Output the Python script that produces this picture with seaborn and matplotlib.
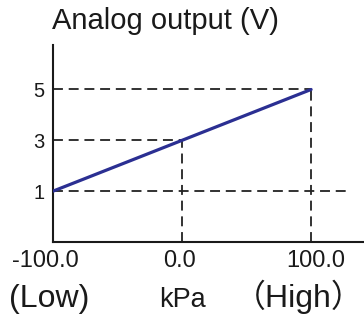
import matplotlib
matplotlib.use("Agg")
import matplotlib.pyplot as plt
import matplotlib.transforms as mtransforms
import seaborn as sns
import pandas as pd

# data
pressure = [-100, 0, 100]          # kPa
voltage = [1, 3, 5]                # V
xtick_labels = ["-100.0", "0.0", "100.0"]
range_labels = ["(Low)", "kPa", "（High）"]
ytick_values = [1, 3, 5]
title = "Analog output (V)"

sns.set_style("white")
plt.rcParams['font.family'] = ['Liberation Sans', 'Noto Sans CJK SC', 'DejaVu Sans']

W, H = 364, 316
DPI = 100
fig = plt.figure(figsize=(W / DPI, H / DPI), dpi=DPI)
ax = fig.add_axes([53 / W, (H - 242) / H, (W - 53) / W, (242 - 45) / H])

df = pd.DataFrame({"p": pressure, "v": voltage})
sns.lineplot(data=df, x="p", y="v", ax=ax, color="#2b2f92", lw=2.3, zorder=3)

dash = dict(color="#222222", lw=1.3, linestyle=(0, (5.5, 3.2)), zorder=2)
ax.set_xlim(-100, 141)
ax.set_ylim(-1, 6.75)
# horizontal guides
ax.axhline(voltage[0], xmin=0, xmax=0.955, **dash)
for p, v in zip(pressure[1:], voltage[1:]):
    ax.hlines(v, pressure[0], p, **dash)
    ax.vlines(p, -1, v, **dash)

ax.set_xticks(pressure)
ax.set_xticklabels(xtick_labels)
ax.set_yticks(ytick_values)
ax.set_yticklabels([str(v) for v in ytick_values])
ax.tick_params(axis="x", length=0, pad=6, labelsize=17, colors="#1a1a1a")
ax.tick_params(axis="y", length=0, pad=6, labelsize=14.5, colors="#1a1a1a")
ax.set_xlabel("")
ax.set_ylabel("")

# small horizontal nudges of tick labels (pixels)
for lab, dx in zip(ax.get_xticklabels(), [-8, -2.5, 5]):
    lab.set_transform(lab.get_transform() +
                      mtransforms.ScaledTranslation(dx / DPI, 0, fig.dpi_scale_trans))

for s in ["top", "right"]:
    ax.spines[s].set_visible(False)
for s in ["left", "bottom"]:
    ax.spines[s].set_color("#1a1a1a")
    ax.spines[s].set_linewidth(1.5)

trans = mtransforms.blended_transform_factory(ax.transData, fig.transFigure)
base_y = 1 - 307 / H
ax.text(pressure[0] - 4 / 1.29, base_y, range_labels[0], transform=trans,
        ha="center", va="baseline", fontsize=23, color="#1a1a1a")
ax.text(pressure[1], base_y, range_labels[1], transform=trans,
        ha="center", va="baseline", fontsize=19.5, color="#1a1a1a")
fig.text(363.5 / W, base_y, range_labels[2], ha="right", va="baseline",
         fontsize=23, color="#1a1a1a")

fig.text(52 / W, 1 - 29 / H, title, ha="left", va="baseline", fontsize=21,
         color="#1a1a1a")

fig.savefig("out.png", dpi=DPI)
